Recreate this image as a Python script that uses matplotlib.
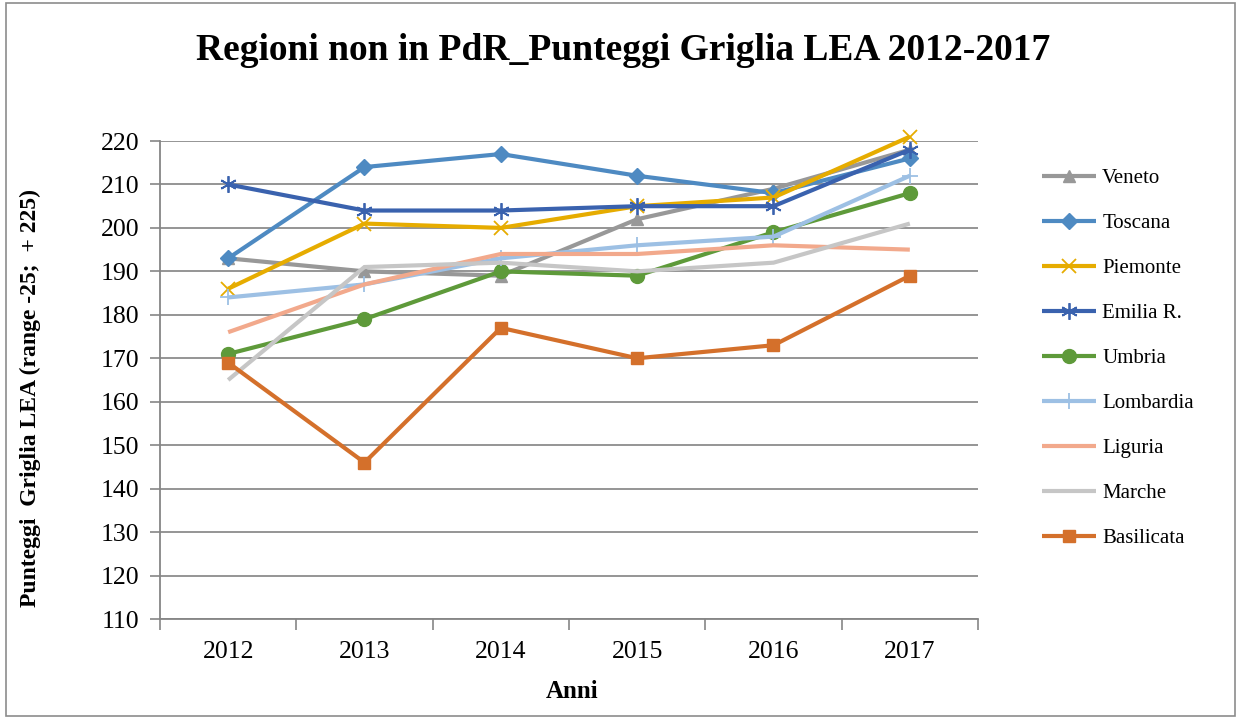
import matplotlib
matplotlib.use("Agg")
import matplotlib.pyplot as plt
from matplotlib.patches import Rectangle

years = [2012, 2013, 2014, 2015, 2016, 2017]
regions = ["Veneto", "Toscana", "Piemonte", "Emilia R.", "Umbria",
           "Lombardia", "Liguria", "Marche", "Basilicata"]
veneto = [193, 190, 189, 202, 209, 218]
toscana = [193, 214, 217, 212, 208, 216]
piemonte = [186, 201, 200, 205, 207, 221]
emilia = [210, 204, 204, 205, 205, 218]
umbria = [171, 179, 190, 189, 199, 208]
lombardia = [184, 187, 193, 196, 198, 212]
liguria = [176, 187, 194, 194, 196, 195]
marche = [165, 191, 192, 190, 192, 201]
basilicata = [169, 146, 177, 170, 173, 189]
series = [veneto, toscana, piemonte, emilia, umbria, lombardia, liguria, marche, basilicata]

colors = ["#989898", "#4E8AC2", "#E6AC00", "#3A62AE", "#5E9A3A",
          "#9DC0E4", "#F2A98C", "#C6C6C6", "#D4702B"]
markers = ["^", "D", "x", (6, 2, 0), "o", "+", None, None, "s"]
msizes = [9, 8, 10, 12, 10, 12, 0, 0, 9]

plt.rcParams['font.family'] = ['Liberation Serif', 'DejaVu Serif']

fig = plt.figure(figsize=(12.39, 7.19), dpi=100)
W, H = 1239, 719
ax = fig.add_axes([160 / W, 100 / H, (978 - 160) / W, (619 - 141) / H])

x = list(range(len(years)))
for vals, name, c, m, ms in zip(series, regions, colors, markers, msizes):
    ax.plot(x, vals, color=c, lw=3, marker=m, markersize=ms,
            markeredgewidth=1.3 if m in ("x", "+", (6, 2, 0)) else 1,
            markeredgecolor=c, markerfacecolor=c, label=name,
            clip_on=False, zorder=3, solid_capstyle='butt')

ax.set_xlim(-0.5, len(years) - 0.5)
ax.set_ylim(110, 220)
ax.set_yticks(range(110, 221, 10))
ax.set_xticks(x)
ax.set_xticklabels([str(y) for y in years])
ax.set_xticks([i - 0.5 for i in range(len(years) + 1)], minor=True)
ax.tick_params(axis='x', which='major', length=0, labelsize=18.5, pad=16)
ax.tick_params(axis='x', which='minor', length=8, color="#868686", width=1.2, direction='out')
ax.tick_params(axis='y', length=7, color="#868686", width=1.2, labelsize=18.5, pad=8)
ax.yaxis.grid(True, color="#8C8C8C", lw=1.3)
ax.set_axisbelow(True)
for s in ("top", "right"):
    ax.spines[s].set_visible(False)
for s in ("left", "bottom"):
    ax.spines[s].set_color("#868686")
    ax.spines[s].set_linewidth(1.3)

fig.text(572 / W, 1 - 691 / H, "Anni", ha='center', va='center',
         fontsize=18, fontweight='bold')
fig.text(30 / W, 1 - 398 / H, "Punteggi  Griglia LEA (range -25;  + 225)",
         ha='center', va='center', rotation=90, fontsize=17, fontweight='bold')

fig.text(623 / W, 1 - 50 / H, "Regioni non in PdR_Punteggi Griglia LEA 2012-2017",
         ha='center', va='center', fontsize=27, fontweight='bold')

leg = fig.legend(loc='upper left', bbox_to_anchor=(1023 / W, 1 - 150 / H),
                 frameon=False, fontsize=15, handlelength=2.6, labelspacing=1.22,
                 handletextpad=0.3)

fig.patches.append(Rectangle((6 / W, 3 / H), (W - 10) / W, (H - 6) / H,
                             transform=fig.transFigure, fill=False,
                             edgecolor="#8C8C8C", lw=1.2))

fig.savefig("out.png", dpi=100)
